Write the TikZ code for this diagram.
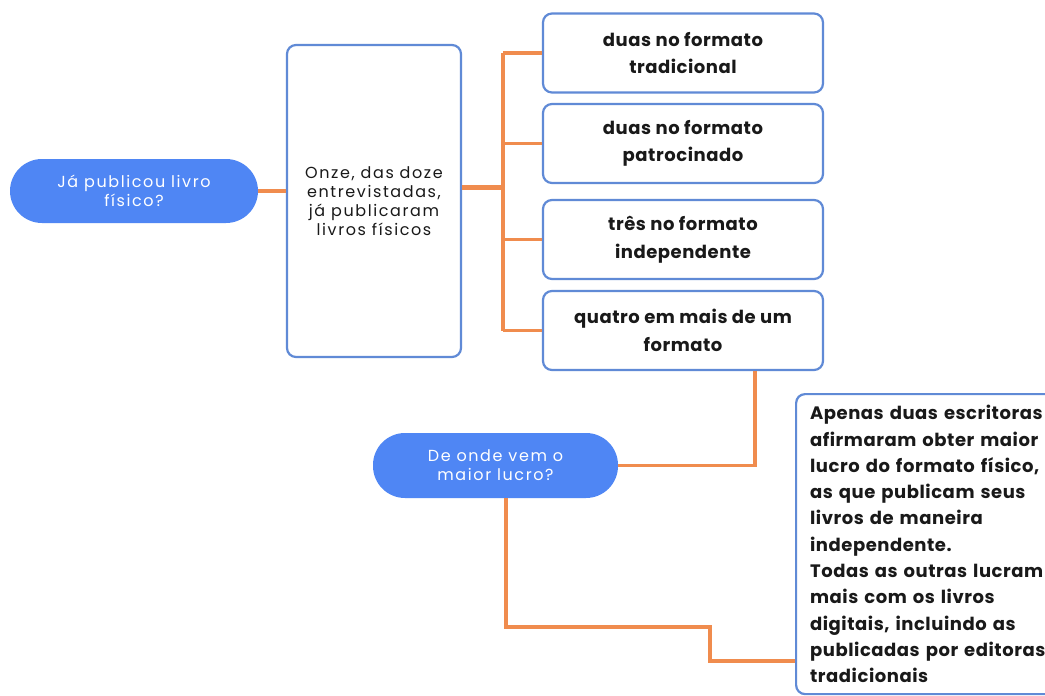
\documentclass[tikz,border=0pt]{standalone}
\usepackage{fontspec}
\setmainfont{Poppins}
\newfontfamily\spaced[LetterSpace=10]{Poppins}
\newfontfamily\lightspaced[LetterSpace=3]{Poppins}
\definecolor{pillblue}{RGB}{79,134,244}
\definecolor{edgeblue}{RGB}{96,138,214}
\definecolor{linkorange}{RGB}{240,140,78}
\definecolor{ink}{RGB}{25,25,25}
\tikzset{
  pill/.style={fill=pillblue, draw=none, rounded corners=32pt, text=white,
    align=center, font=\spaced\fontsize{16}{19}\selectfont, inner sep=0pt},
  outlinebox/.style={draw=edgeblue, line width=2.2pt, rounded corners=9pt, fill=white,
    align=center, inner sep=0pt, text=ink},
  rbox/.style={outlinebox, minimum width=280pt, minimum height=79pt,
    font=\lightspaced\bfseries\fontsize{18}{27.5}\selectfont},
  link/.style={draw=linkorange, line width=3.2pt},
  thicklink/.style={draw=linkorange, line width=5pt}
}
\begin{document}
\begin{tikzpicture}[x=1pt,y=-1pt]
\clip (0,0) rectangle (1045,696);
\fill[white] (0,0) rectangle (1045,696);

% nodes
\node[pill, minimum width=248pt, minimum height=64pt] (q1) at (134,191)
  {Já publicou livro\\físico?};
\node[outlinebox, minimum width=174pt, minimum height=312pt,
  font=\spaced\fontsize{16}{19}\selectfont] (onze) at (374,201)
  {Onze, das doze\\entrevistadas,\\já publicaram\\livros físicos};
\node[rbox] (b1) at (683,53) {duas no formato\\tradicional};
\node[rbox] (b2) at (683,143.5) {duas no formato\\patrocinado};
\node[rbox] (b3) at (683,239.5) {três no formato\\independente};
\node[rbox] (b4) at (683,330.5) {quatro em mais de um\\formato};
\node[pill, minimum width=245pt, minimum height=65pt] (q2) at (495.5,465.5)
  {De onde vem o\\maior lucro?};
\node[outlinebox, anchor=north west, align=left, text width=330pt,
  minimum height=300pt, inner xsep=14pt,
  font=\lightspaced\bfseries\fontsize{18}{26.3}\selectfont] (ans) at (795,393)
  {Apenas duas escritoras\\afirmaram obter maior\\lucro do formato físico,\\as que publicam seus\\livros de maneira\\independente.\\Todas as outras lucram\\mais com os livros\\digitais, incluindo as\\publicadas por editoras\\tradicionais};

% connectors
\coordinate (trunk) at (503,0);
\draw[link] (q1.east) -- (onze.west |- q1.east);
\draw[thicklink] (onze.east |- 0,187) -- (trunk |- 0,187);
\draw[link] (trunk |- b1.west) -- (trunk |- b4.west);
\draw[link] (trunk |- b1.west) -- (b1.west);
\draw[link] (trunk |- b2.west) -- (b2.west);
\draw[link] (trunk |- b3.west) -- (b3.west);
\draw[link] (trunk |- b4.west) -- (b4.west);
\draw[link] (b4.south -| 755,0) |- (q2.east);
\draw[link] (q2.south -| 506,0) |- (710,627) |- (ans.west |- 0,661);
\end{tikzpicture}
\end{document}
